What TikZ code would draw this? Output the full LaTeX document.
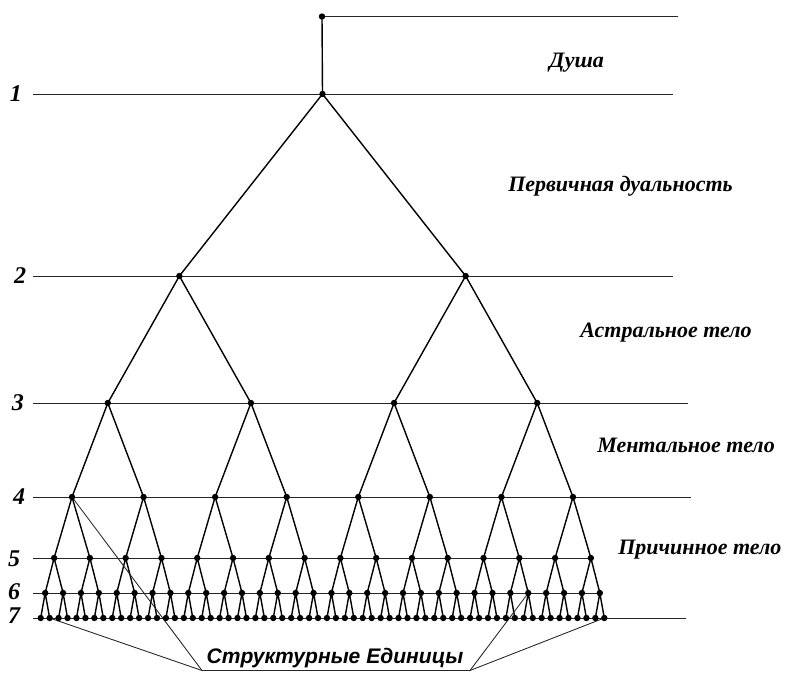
\documentclass[tikz,border=0pt]{standalone}
\usepackage{fontspec}
\setmainfont{Liberation Serif}
\newfontfamily\serifbi{Liberation Serif Bold Italic}
\newfontfamily\labelsans{Liberation Sans}
\begin{document}
\begin{tikzpicture}[x=0.75pt,y=-0.75pt,
  dot/.style={circle,fill=black,inner sep=0pt,minimum size=4.8pt},
  edge/.style={line width=1.05pt,black},
  levelline/.style={line width=0.65pt,black!85},
  numlbl/.style={font=\serifbi\fontsize{18}{20}\selectfont,inner sep=0pt},
  bodylbl/.style={font=\serifbi\fontsize{16.5}{18}\selectfont,inner sep=0pt,anchor=base west},
  unitlbl/.style={font=\labelsans\fontsize{15.8}{18}\selectfont\bfseries\itshape,inner sep=0pt,anchor=base}]
\useasboundingbox (0,0) rectangle (786,673);
% tree coordinates
\foreach \L/\y in {1/94,2/276,3/403,4/497,5/558,6/593,7/618}{
  \pgfmathtruncatemacro\cnt{2^(\L-1)-1}
  \pgfmathsetmacro\blk{2^(7-\L)}
  \foreach \j in {0,...,\cnt}{
    \pgfmathsetmacro\xx{40.7+8.946*((\j+0.5)*\blk-0.5)}
    \coordinate (n\L-\j) at (\xx,\y);
  }
}
\coordinate (top) at (322,16.5);
\coordinate (topR) at (678,16.5);
% level lines
\foreach \L/\y/\xe in {1/94/673,2/276/673,3/403/688,4/497/691,5/558/592,6/593/602,7/618/686}{
  \coordinate (l\L) at (33,\y);
  \coordinate (r\L) at (\xe,\y);
  \draw[levelline] (l\L) -- (r\L);
}
\draw[levelline] (top) -- (topR);
\draw[edge] (top) -- (n1-0);
% tree edges
\foreach \L in {1,...,6}{
  \pgfmathtruncatemacro\cnt{2^(\L-1)-1}
  \pgfmathtruncatemacro\nL{\L+1}
  \foreach \j in {0,...,\cnt}{
    \pgfmathtruncatemacro\ca{2*\j}
    \pgfmathtruncatemacro\cb{2*\j+1}
    \draw[edge] (n\nL-\ca) -- (n\L-\j) -- (n\nL-\cb);
  }
}
% structural units
\coordinate (SL) at (202,670.5);
\coordinate (SR) at (470,670.5);
\draw[levelline] (n7-1) -- (SL) -- (SR) -- (n7-63);
\draw[levelline] (n4-0) -- (SL);
\draw[levelline] (n6-27) -- (SR);
% dots
\foreach \L in {1,...,7}{
  \pgfmathtruncatemacro\cnt{2^(\L-1)-1}
  \foreach \j in {0,...,\cnt}{
    \node[dot] (d\L-\j) at (n\L-\j) {};
  }
}
\node[dot] (dtop) at (top) {};
% numbers
\node[numlbl] (num1) at (16,94) {1};
\node[numlbl] (num2) at (20,276) {2};
\node[numlbl] (num3) at (18,403) {3};
\node[numlbl] (num4) at (19,497) {4};
\node[numlbl] (num5) at (14,559) {5};
\node[numlbl] (num6) at (14,592) {6};
\node[numlbl] (num7) at (14,616) {7};
% body labels
\node[bodylbl] (soul) at (549,68) {Душа};
\node[bodylbl] (dual) at (508,192) {Первичная дуальность};
\node[bodylbl] (astral) at (580,338) {Астральное тело};
\node[bodylbl] (mental) at (597,453) {Ментальное тело};
\node[bodylbl] (causal) at (618,555) {Причинное тело};
\node[unitlbl] (units) at (335,663) {Структурные Единицы};
\end{tikzpicture}
\end{document}
